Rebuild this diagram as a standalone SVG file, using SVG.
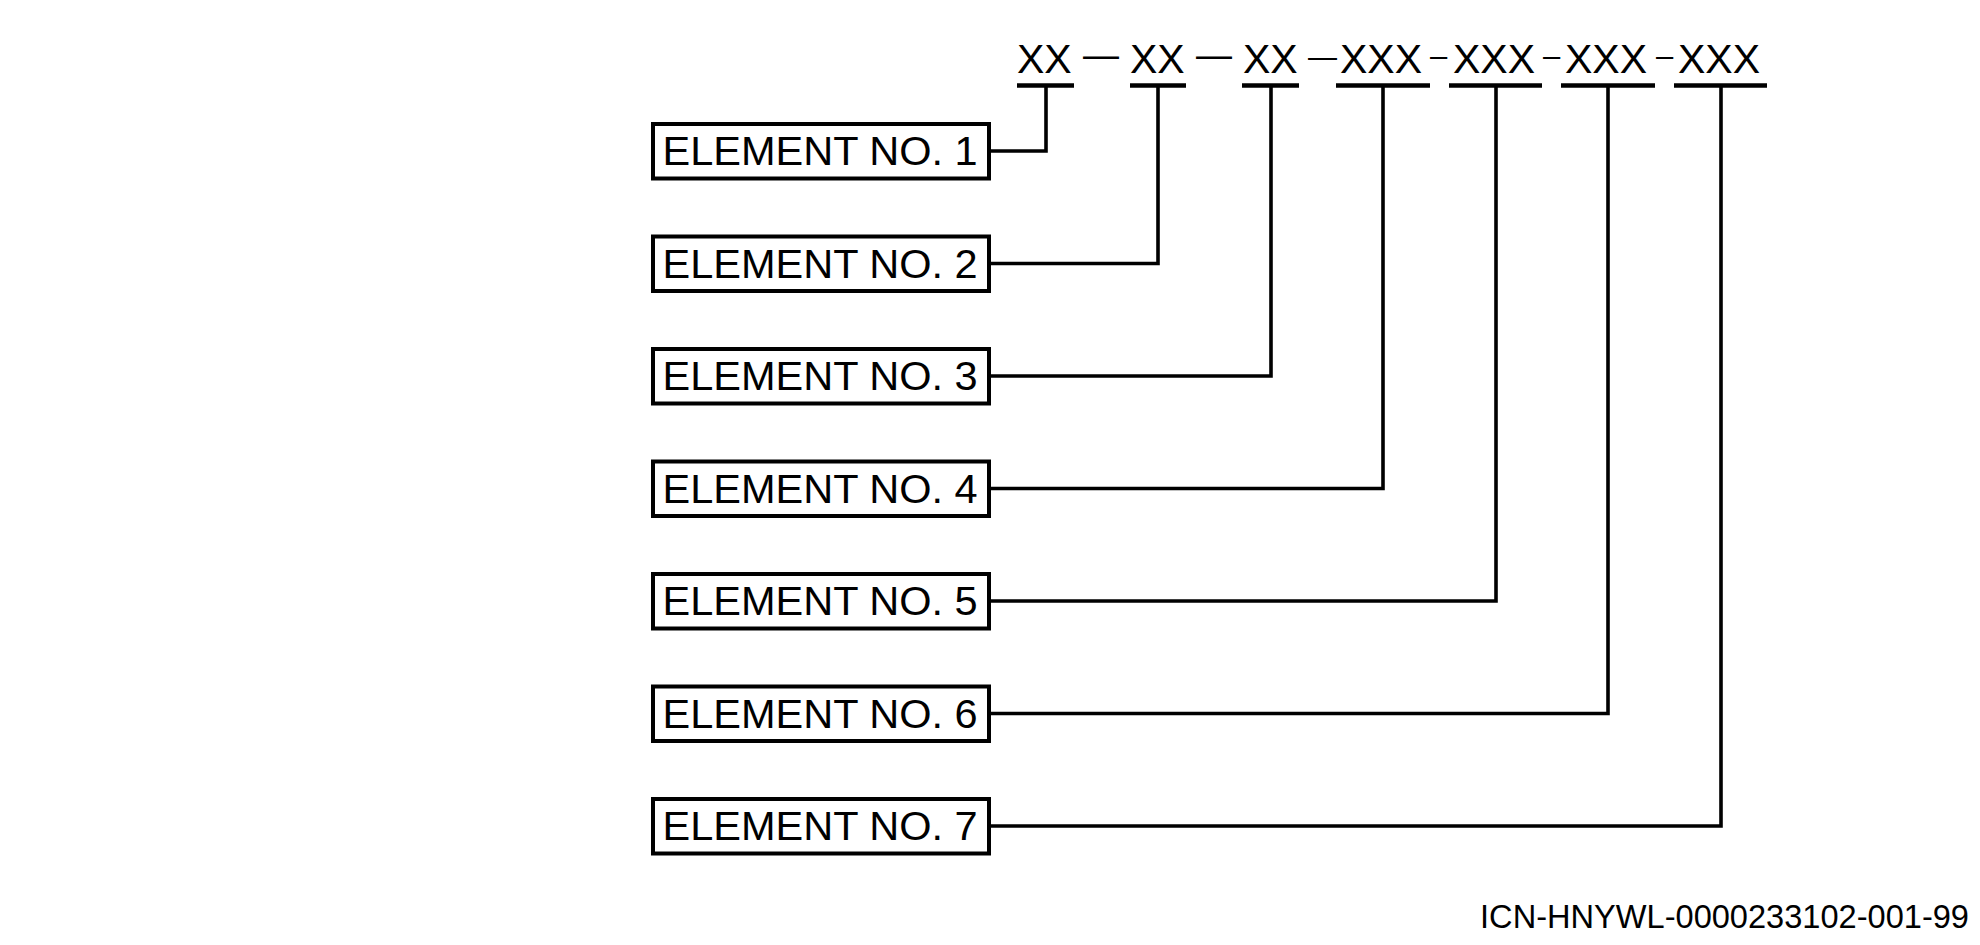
<svg xmlns="http://www.w3.org/2000/svg" width="1980" height="945" viewBox="0 0 1980 945">
<style>
text{font-family:"Liberation Sans",Arial,sans-serif;fill:#000}
.lbl{font-size:41.5px}
.hd{font-size:41px}
.em{font-size:36px}
.en{font-size:31px}
.box{fill:#fff;stroke:#000;stroke-width:4}
.ul{stroke:#000;stroke-width:4.3;fill:none}
.cn{stroke:#000;stroke-width:3.6;fill:none}
</style>
<rect width="1980" height="945" fill="#fff"/>
<g id="header">
<text class="hd" x="1017" y="73.3">XX</text>
<text class="em" x="1083" y="67">—</text>
<text class="hd" x="1130" y="73.3">XX</text>
<text class="em" x="1196" y="67">—</text>
<text class="hd" x="1243" y="73.3">XX</text>
<text x="1308" y="67" style="font-size:29px">—</text>
<text class="hd" x="1340" y="73.3">XXX</text>
<text class="en" x="1430" y="66">–</text>
<text class="hd" x="1453" y="73.3">XXX</text>
<text class="en" x="1543" y="66">–</text>
<text class="hd" x="1565" y="73.3">XXX</text>
<text class="en" x="1656" y="66">–</text>
<text class="hd" x="1678" y="73.3">XXX</text>
<line class="ul" x1="1017" y1="85.5" x2="1074" y2="85.5"/>
<line class="ul" x1="1130" y1="85.5" x2="1186" y2="85.5"/>
<line class="ul" x1="1242" y1="85.5" x2="1299" y2="85.5"/>
<line class="ul" x1="1336" y1="85.5" x2="1430" y2="85.5"/>
<line class="ul" x1="1449" y1="85.5" x2="1542" y2="85.5"/>
<line class="ul" x1="1561" y1="85.5" x2="1655" y2="85.5"/>
<line class="ul" x1="1674" y1="85.5" x2="1767" y2="85.5"/>
</g>
<g id="connectors">
<polyline class="cn" points="989,151 1046,151 1046,85"/>
<polyline class="cn" points="989,263.5 1158,263.5 1158,85"/>
<polyline class="cn" points="989,376 1271,376 1271,85"/>
<polyline class="cn" points="989,488.5 1383,488.5 1383,85"/>
<polyline class="cn" points="989,601 1496,601 1496,85"/>
<polyline class="cn" points="989,713.5 1608,713.5 1608,85"/>
<polyline class="cn" points="989,826 1721,826 1721,85"/>
</g>
<g id="element1"><rect class="box" x="653" y="124" width="336" height="54.5"/><text class="lbl" x="662.5" y="165.3">ELEMENT NO. 1</text></g>
<g id="element2"><rect class="box" x="653" y="236.5" width="336" height="54.5"/><text class="lbl" x="662.5" y="277.8">ELEMENT NO. 2</text></g>
<g id="element3"><rect class="box" x="653" y="349" width="336" height="54.5"/><text class="lbl" x="662.5" y="390.3">ELEMENT NO. 3</text></g>
<g id="element4"><rect class="box" x="653" y="461.5" width="336" height="54.5"/><text class="lbl" x="662.5" y="502.8">ELEMENT NO. 4</text></g>
<g id="element5"><rect class="box" x="653" y="574" width="336" height="54.5"/><text class="lbl" x="662.5" y="615.3">ELEMENT NO. 5</text></g>
<g id="element6"><rect class="box" x="653" y="686.5" width="336" height="54.5"/><text class="lbl" x="662.5" y="727.8">ELEMENT NO. 6</text></g>
<g id="element7"><rect class="box" x="653" y="799" width="336" height="54.5"/><text class="lbl" x="662.5" y="840.3">ELEMENT NO. 7</text></g>
<text id="icn" x="1969" y="928" text-anchor="end" style="font-size:32.6px">ICN-HNYWL-0000233102-001-99</text>
</svg>
